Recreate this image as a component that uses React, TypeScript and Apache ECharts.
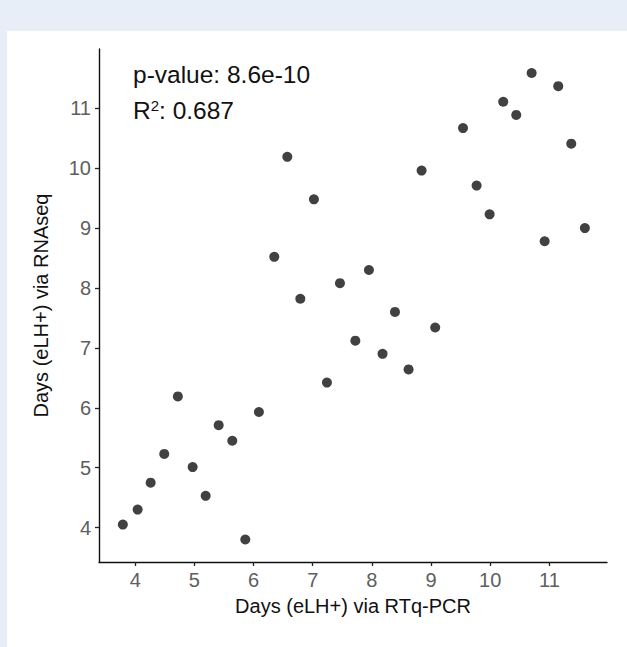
import React, { useEffect, useRef } from "react";
import * as echarts from "echarts";

const rtqPcrDays: number[] = [
  3.79, 4.04, 4.26, 4.49, 4.72, 4.97, 5.19, 5.41, 5.64, 5.86, 6.09, 6.35, 6.57, 6.79,
  7.02, 7.24, 7.46, 7.72, 7.95, 8.18, 8.39, 8.62, 8.84, 9.07, 9.54, 9.77, 9.99, 10.22,
  10.44, 10.7, 10.92, 11.15, 11.37, 11.6,
];
const rnaSeqDays: number[] = [
  4.05, 4.3, 4.75, 5.23, 6.19, 5.01, 4.53, 5.71, 5.45, 3.8, 5.93, 8.52, 10.19, 7.82,
  9.48, 6.42, 8.08, 7.12, 8.3, 6.9, 7.6, 6.64, 9.96, 7.34, 10.67, 9.71, 9.23, 11.11,
  10.89, 11.59, 8.78, 11.37, 10.41, 9.0,
];
const xTicks: number[] = [4, 5, 6, 7, 8, 9, 10, 11];
const yTicks: number[] = [4, 5, 6, 7, 8, 9, 10, 11];
const pValueText = "p-value: 8.6e-10";
const r2Value = "0.687";
const xTitle = "Days (eLH+) via RTq-PCR";
const yTitle = "Days (eLH+) via RNAseq";

const FONT = "Liberation Sans";

export default function App() {
  const ref = useRef<HTMLDivElement>(null);
  useEffect(() => {
    if (!ref.current) return;
    const chart = echarts.init(ref.current, undefined, { renderer: "svg" });
    const points = rtqPcrDays.map((x, i) => [x, rnaSeqDays[i]]);
    const axisCommon = {
      type: "value" as const,
      interval: 1,
      splitLine: { show: false },
      axisLine: { show: true, onZero: false, lineStyle: { color: "#111", width: 1.4 } },
      axisTick: { show: true, length: 4, lineStyle: { color: "#222", width: 1.3 } },
      nameLocation: "middle" as const,
      nameTextStyle: { fontFamily: FONT, fontSize: 20, color: "#111" },
    };
    chart.setOption({
      animation: false,
      backgroundColor: "#e8eef8",
      graphic: [
        {
          type: "rect",
          z: -10,
          silent: true,
          shape: { x: 7, y: 31, width: 620, height: 616 },
          style: { fill: "#ffffff" },
        },
        {
          type: "text",
          left: 133,
          top: 62,
          style: { text: pValueText, fontFamily: FONT, fontSize: 24.5, fill: "#111" },
        },
        {
          type: "text",
          left: 133,
          top: 98,
          style: {
            text: "R{sup|2}: " + r2Value,
            fontFamily: FONT,
            fontSize: 24.5,
            fill: "#111",
            rich: {
              sup: { fontFamily: FONT, fontSize: 15, verticalAlign: "top", padding: [0, 0, 10, 0], fill: "#111" },
            },
          },
        },
      ],
      grid: { left: 99, right: 20, top: 49, bottom: 85, containLabel: false },
      xAxis: {
        ...axisCommon,
        min: 3.387,
        max: 11.974,
        name: xTitle,
        nameGap: 34,
        axisLabel: {
          margin: 8,
          fontFamily: FONT,
          fontSize: 20,
          color: "#5e5e5e",
          customValues: xTicks,
        },
        axisTick: { ...axisCommon.axisTick, customValues: xTicks },
      },
      yAxis: {
        ...axisCommon,
        min: 3.425,
        max: 11.99,
        name: yTitle,
        nameGap: 48,
        axisLabel: {
          margin: 8,
          fontFamily: FONT,
          fontSize: 20,
          color: "#5e5e5e",
          customValues: yTicks,
        },
        axisTick: { ...axisCommon.axisTick, customValues: yTicks },
      },
      series: [
        {
          type: "scatter",
          data: points,
          symbol: "circle",
          symbolSize: 10,
          itemStyle: { color: "#111" },
        },
      ],
    });
    return () => chart.dispose();
  }, []);
  return (
    <div
      ref={ref}
      style={{ position: "fixed", left: 0, top: 0, width: 627, height: 647 }}
    />
  );
}
